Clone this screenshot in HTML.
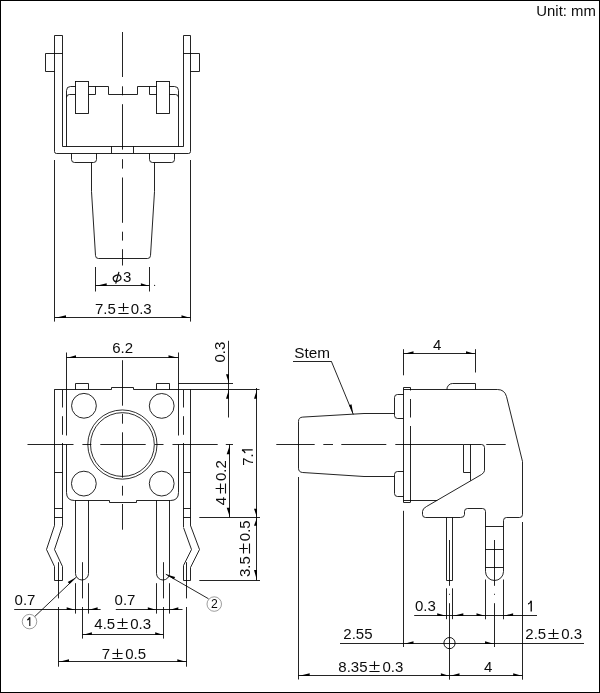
<!DOCTYPE html>
<html><head><meta charset="utf-8"><title>Drawing</title>
<style>
html,body{margin:0;padding:0;background:#fff;}
body{width:600px;height:693px;overflow:hidden;font-family:"Liberation Sans",sans-serif;}
svg{display:block;will-change:transform;}
svg *{vector-effect:none;}
line,path,circle,rect,polyline{fill:none;stroke:#000;stroke-width:0.86;stroke-linecap:butt;stroke-linejoin:miter;}
polygon.a{fill:#000;stroke:none;}
path.t{stroke:#0c0c0c;stroke-width:1.1;fill:none;}
text{font-family:"Liberation Sans",sans-serif;fill:#0c0c0c;stroke:none;}
</style></head>
<body>
<svg width="600" height="693" viewBox="0 0 600 693">
<rect x="0" y="0" width="600" height="693" style="fill:#fff;stroke:none"/>
<rect x="0.5" y="0.5" width="599" height="692" style="stroke:#000;stroke-width:1"/>
<!-- front view -->
<text x="536.3" y="15.8" font-size="14.9">Unit: mm</text>
<path d="M62.5 146.5V35.5H54.5V151.5Q54.5 153.5 56.5 153.5H188.5Q190.5 153.5 190.5 151.5"/>
<path d="M190.5 151.5V35.5H183.5V146.5"/>
<line x1="62.5" y1="146.5" x2="183.6" y2="146.5"/>
<path d="M62.5 53.5H45.5V71.5H54.5"/>
<path d="M183.5 53.5H199.5V71.5H190.5"/>
<line x1="111.5" y1="146.4" x2="111.5" y2="153.2"/>
<line x1="133.5" y1="146.4" x2="133.5" y2="153.2"/>
<path d="M66.5 146.5V90.5Q66.5 86.5 70.5 86.5H75.5"/>
<path d="M178.5 146.5V90.5Q178.5 86.5 174.5 86.5H169.5"/>
<path d="M66.5 97.5Q66.5 94.5 69.5 94.5H75.5"/>
<path d="M178.5 97.5Q178.5 94.5 175.5 94.5H169.5"/>
<path d="M88.5 86.5H108.5V94.5H137.5V86.5H156.5"/>
<path d="M88.5 94.5H95.5V86.5"/>
<path d="M156.5 94.5H149.5V86.5"/>
<rect x="75.5" y="81.5" width="13" height="32"/>
<rect x="156.5" y="81.5" width="13" height="32"/>
<path d="M71.5 153.5V159.5Q71.5 162.5 74.5 162.5H93.5Q96.5 162.5 96.5 159.5V153.5"/>
<path d="M149.5 153.5V159.5Q149.5 162.5 152.5 162.5H171.5Q174.5 162.5 174.5 159.5V153.5"/>
<path d="M91.5 162.5V191.5L95.5 255.5Q95.5 258.5 98.5 258.5H147.5Q150.5 258.5 150.5 255.5L154.5 191.5V162.5"/>
<line x1="122.5" y1="32" x2="122.5" y2="77"/>
<line x1="122.5" y1="86.3" x2="122.5" y2="95.3"/>
<line x1="122.5" y1="104.2" x2="122.5" y2="149.6"/>
<line x1="122.5" y1="159.2" x2="122.5" y2="168.6"/>
<line x1="122.5" y1="177.5" x2="122.5" y2="222.8"/>
<line x1="122.5" y1="231.7" x2="122.5" y2="240.6"/>
<line x1="122.5" y1="249.2" x2="122.5" y2="265.5"/>
<line x1="95.5" y1="267" x2="95.5" y2="291.5"/>
<line x1="149.5" y1="267" x2="149.5" y2="291.5"/>
<line x1="95.5" y1="285.5" x2="149.5" y2="285.5"/>
<polygon class="a" points="95.5,286 106.7,283.2 106.7,286"/>
<polygon class="a" points="149.5,286 140.9,283.2 140.9,286"/>
<circle cx="154.6" cy="285.4" r="0.6" style="fill:#222;stroke:none"/>
<ellipse cx="117.1" cy="278.2" rx="3.9" ry="3.0" transform="rotate(-22 117.1 278.2)" style="fill:none;stroke:#0c0c0c;stroke-width:1.25"/>
<path class="t" style="stroke-width:1.2" d="M118.95 271.9L115.7 283.7"/>
<text x="123" y="281.9" font-size="15">3</text>
<line x1="54.5" y1="160" x2="54.5" y2="321.6"/>
<line x1="190.5" y1="160" x2="190.5" y2="321.6"/>
<line x1="54.65" y1="317.5" x2="190.5" y2="317.5"/>
<polygon class="a" points="54.5,318 66,315.2 66,318"/>
<polygon class="a" points="190.5,318 181.5,315.2 181.5,318"/>
<text x="95" y="313.5" font-size="15">7.5</text>
<path class="t" d="M118.4 307.5H128.6M123.5 303.1V311.6M118.4 313.5H128.6"/>
<text x="130.85" y="313.5" font-size="15">0.3</text>
<!-- top view -->
<path d="M54.5 389.5H111.5V387.5H133.5V389.5H259.5"/>
<line x1="178.4" y1="383.5" x2="233" y2="383.5"/>
<line x1="66.5" y1="352.5" x2="66.5" y2="435.5"/>
<line x1="178.5" y1="352.5" x2="178.5" y2="435.5"/>
<path d="M66.5 444.5V492.5Q66.5 500.5 74.5 500.5H109.5V502.5H136.5V500.5H170.5Q178.5 500.5 178.5 492.5V444.5"/>
<path d="M75.5 389.5V383.5H88.5V389.5"/>
<path d="M156.5 389.5V383.5H169.5V389.5"/>
<circle cx="83.95" cy="405.8" r="12.4" style="stroke-width:0.85;"/>
<circle cx="161.7" cy="405.9" r="12.4" style="stroke-width:0.85;"/>
<circle cx="83.85" cy="483.6" r="12.4" style="stroke-width:0.85;"/>
<circle cx="161.7" cy="483.6" r="12.4" style="stroke-width:0.85;"/>
<circle cx="122.4" cy="444.55" r="34.6" style="stroke-width:0.82;"/>
<circle cx="122.4" cy="444.55" r="31.9" style="stroke-width:0.82;"/>
<line x1="54.5" y1="389.3" x2="54.5" y2="525.6"/>
<line x1="190.5" y1="389.3" x2="190.5" y2="525.8"/>
<line x1="62.5" y1="390" x2="62.5" y2="407.5"/>
<line x1="62.5" y1="416.2" x2="62.5" y2="434.8"/>
<line x1="183.5" y1="390" x2="183.5" y2="407.5"/>
<line x1="183.5" y1="416.2" x2="183.5" y2="434.8"/>
<line x1="62.5" y1="443" x2="62.5" y2="525.6"/>
<line x1="183.5" y1="443" x2="183.5" y2="527"/>
<line x1="54.6" y1="472.5" x2="62.45" y2="472.5"/>
<line x1="183.5" y1="472.5" x2="190.45" y2="472.5"/>
<line x1="54.6" y1="508.5" x2="62.45" y2="508.5"/>
<line x1="183.5" y1="508.5" x2="190.45" y2="508.5"/>
<line x1="54.6" y1="517.5" x2="62.45" y2="517.5"/>
<line x1="183.5" y1="517.5" x2="190.45" y2="517.5"/>
<g style="stroke-linejoin:round">
<path d="M54.5 525.5L46.5 549.5L54.5 566.5V580.5H62.5V566.5L54.5 549.5L62.5 525.5"/>
<path d="M190.5 525.5L199.5 549.5L190.5 567.5V580.5H183.5V565.5L191.5 549.5L183.5 527.5"/>
</g>
<path d="M75.5 500.5V573.5A6.5 6.5 0 0 0 88.5 573.5V500.5"/>
<path d="M156.5 500.5V573.5A6.47 6.47 0 0 0 169.5 573.5V500.5"/>
<line x1="27.5" y1="444.5" x2="73.5" y2="444.5"/>
<line x1="82.4" y1="444.5" x2="91.4" y2="444.5"/>
<line x1="100.3" y1="444.5" x2="145.7" y2="444.5"/>
<line x1="154.6" y1="444.5" x2="163.5" y2="444.5"/>
<line x1="172.5" y1="444.5" x2="217.7" y2="444.5"/>
<line x1="225.8" y1="444.5" x2="233" y2="444.5"/>
<line x1="122.5" y1="360.2" x2="122.5" y2="405.7"/>
<line x1="122.5" y1="413.8" x2="122.5" y2="423.7"/>
<line x1="122.5" y1="432.3" x2="122.5" y2="477.6"/>
<line x1="122.5" y1="485.8" x2="122.5" y2="495.6"/>
<line x1="122.5" y1="504" x2="122.5" y2="529.7"/>
<line x1="82.5" y1="562.2" x2="82.5" y2="598.4"/>
<line x1="82.5" y1="607" x2="82.5" y2="638.6"/>
<line x1="163.5" y1="562.2" x2="163.5" y2="598.4"/>
<line x1="163.5" y1="607" x2="163.5" y2="638.6"/>
<line x1="58.5" y1="562.2" x2="58.5" y2="598.4"/>
<line x1="58.5" y1="607" x2="58.5" y2="666.7"/>
<line x1="186.5" y1="562.2" x2="186.5" y2="598.4"/>
<line x1="186.5" y1="607" x2="186.5" y2="666.7"/>
<line x1="66.4" y1="357.5" x2="178.4" y2="357.5"/>
<polygon class="a" points="66.5,358 76,355.2 76,358"/>
<polygon class="a" points="178.5,358 168.5,355.2 168.5,358"/>
<text x="112.2" y="353.35" font-size="15">6.2</text>
<line x1="75.5" y1="583.2" x2="75.5" y2="613.6"/>
<line x1="88.5" y1="583.2" x2="88.5" y2="613.6"/>
<line x1="156.5" y1="583.2" x2="156.5" y2="613.6"/>
<line x1="169.5" y1="583.2" x2="169.5" y2="613.6"/>
<line x1="14.2" y1="609.5" x2="100.6" y2="609.5"/>
<line x1="115.8" y1="609.5" x2="182.5" y2="609.5"/>
<polygon class="a" points="75.5,610 66.7,607.2 66.7,610"/>
<polygon class="a" points="88.5,610 97.6,607.2 97.6,610"/>
<polygon class="a" points="156.5,610 147.8,607.2 147.8,610"/>
<polygon class="a" points="169.5,610 178.3,607.2 178.3,610"/>
<text x="14.6" y="605.35" font-size="15">0.7</text>
<text x="114.6" y="605.35" font-size="15">0.7</text>
<line x1="82.35" y1="634.5" x2="163.3" y2="634.5"/>
<polygon class="a" points="82.5,635 91.9,632.2 91.9,635"/>
<polygon class="a" points="163.5,635 155.2,632.2 155.2,635"/>
<text x="94.3" y="628.7" font-size="15">4.5</text>
<path class="t" d="M117.4 622.5H127.6M122.5 618.3V626.8M117.4 628.5H127.6"/>
<text x="130.15" y="628.7" font-size="15">0.3</text>
<line x1="58.55" y1="661.5" x2="186.7" y2="661.5"/>
<polygon class="a" points="58.5,662 69,659.2 69,662"/>
<polygon class="a" points="186.5,662 177.3,659.2 177.3,662"/>
<text x="101.8" y="659.25" font-size="15">7</text>
<path class="t" d="M112.4 653.5H122.6M117.5 648.85V657.35M112.4 658.5H122.6"/>
<text x="125.14" y="659.25" font-size="15">0.5</text>
<line x1="199.3" y1="517.5" x2="260" y2="517.5"/>
<line x1="199.3" y1="580.5" x2="260" y2="580.5"/>
<line x1="228.5" y1="340.8" x2="228.5" y2="417.5"/>
<polygon class="a" points="229,383.5 226,374.2 229,374.2"/>
<polygon class="a" points="229,389.5 226,398.8 229,398.8"/>
<line x1="229.5" y1="444.45" x2="229.5" y2="517.25"/>
<polygon class="a" points="230,444.5 226.7,454.2 230,454.2"/>
<polygon class="a" points="230,517.5 226.7,507.7 230,507.7"/>
<line x1="256.5" y1="388" x2="256.5" y2="580.3"/>
<polygon class="a" points="257,389.5 254,398.8 257,398.8"/>
<polygon class="a" points="257,517.5 254,508.7 257,508.7"/>
<polygon class="a" points="257,517.5 254,525.7 257,525.7"/>
<polygon class="a" points="257,580.5 254,570 257,570"/>
<g transform="translate(225.1 362.6) rotate(-90)">
<text x="0" y="0" font-size="15">0.3</text>
</g>
<g transform="translate(252.7 465.8) rotate(-90)">
<text x="0" y="0" font-size="15">7.</text>
<path class="t" style="stroke-width:1.38" d="M15.94 0V-10.74M12.78 -7.58Q14.76 -7.95 15.76 -10.74"/>
</g>
<g transform="translate(226 505.3) rotate(-90)">
<text x="0" y="0" font-size="15">4</text>
<path class="t" d="M11.7 -5.5H21.9M16.8 -10.4V-1.9M11.7 -0.5H21.9"/>
<text x="24.34" y="0" font-size="15">0.2</text>
</g>
<g transform="translate(249.7 577) rotate(-90)">
<text x="0" y="0" font-size="15">3.5</text>
<path class="t" d="M23.4 -6.2H33.6M28.5 -10.4V-1.9M23.4 -0.2H33.6"/>
<text x="35.85" y="0" font-size="15">0.5</text>
</g>
<line x1="34.75" y1="616.5" x2="76.2" y2="577.2" style="stroke-width:0.85;"/>
<polygon class="a" points="76.2,577.2 67.72,582.07 69.58,584.03"/>
<line x1="208.5" y1="598.75" x2="165.8" y2="574.2" style="stroke-width:0.85;"/>
<polygon class="a" points="165.8,574.2 175.18,576.94 173.84,579.28"/>
<circle cx="29.5" cy="621.6" r="7.25" style="stroke-width:0.6;stroke:#5a5a5a;"/>
<circle cx="214.25" cy="604.05" r="7.25" style="stroke-width:0.6;stroke:#5a5a5a;"/>
<path class="t" style="stroke-width:1.12" d="M29.8 626V617.26M27.23 619.84Q28.84 619.53 29.65 617.26"/>
<text x="214.3" y="608.3" font-size="12.2" text-anchor="middle">2</text>
<!-- side view -->
<line x1="276.3" y1="444.5" x2="314.7" y2="444.5"/>
<line x1="323.3" y1="444.5" x2="333" y2="444.5"/>
<line x1="341.3" y1="444.5" x2="386.3" y2="444.5"/>
<line x1="395.3" y1="444.5" x2="463.3" y2="444.5"/>
<line x1="486.3" y1="444.5" x2="505.7" y2="444.5"/>
<path d="M394.5 413.5H364L302.7 417.1Q298.5 417.35 298.5 421.4V468.2Q298.5 472.2 302.7 472.5L364 476.5H394.5"/>
<path d="M403.5 394.5H397.5Q394.5 394.5 394.5 397.5V415.5Q394.5 418.5 397.5 418.5H403.5"/>
<path d="M403.5 471.5H397.5Q394.5 471.5 394.5 474.5V493.5Q394.5 496.5 397.5 496.5H403.5"/>
<path d="M403.5 502.5V387.5H410.5V390.5"/>
<path d="M403.5 389.5H497.5Q504.5 389.5 506.5 396.5L522.5 461.5V514.5Q522.5 517.5 519.5 517.5H506.5Q503.5 517.5 503.5 520.5V571.5"/>
<path d="M446.9 389.5A5.6 6 0 0 1 452.5 383.5H475.5V389.5"/>
<line x1="410.5" y1="399" x2="410.5" y2="417.5"/>
<line x1="410.5" y1="426" x2="410.5" y2="502.2"/>
<path d="M403.5 502.5H410.5"/>
<line x1="403.3" y1="500.5" x2="437.3" y2="500.5"/>
<path d="M481.5 474.5L426.5 506.5Q422.5 508.5 422.5 511.5V514.5Q422.5 517.5 425.5 517.5H460.5Q464.5 517.5 464.5 514.5V511.5Q464.5 508.5 467.5 508.5H482.5Q485.5 508.5 485.5 511.5V571.5"/>
<path d="M463.5 444.5V472.5H470.5"/>
<line x1="470.5" y1="444.45" x2="470.5" y2="480.7"/>
<path d="M463.5 444.5H481.5Q484.5 444.5 484.5 447.5V470.5Q484.5 472.5 481.5 474.5"/>
<path d="M446.5 517.5V580.5H452.5V517.5"/>
<path d="M485.5 571.5A8.975 8.975 0 0 0 503.5 571.5"/>
<line x1="485.4" y1="526.5" x2="503.35" y2="526.5"/>
<line x1="485.4" y1="549.5" x2="503.35" y2="549.5"/>
<line x1="485.4" y1="567.5" x2="503.35" y2="567.5"/>
<line x1="449.5" y1="540" x2="449.5" y2="585.8"/>
<line x1="449.5" y1="593.8" x2="449.5" y2="594.8"/>
<line x1="449.5" y1="603.2" x2="449.5" y2="679.7"/>
<line x1="494.5" y1="540" x2="494.5" y2="585.8"/>
<line x1="494.5" y1="593.8" x2="494.5" y2="594.8"/>
<line x1="494.5" y1="603.2" x2="494.5" y2="647"/>
<line x1="298.5" y1="477" x2="298.5" y2="679.5"/>
<line x1="403.5" y1="510.8" x2="403.5" y2="647"/>
<line x1="522.5" y1="522" x2="522.5" y2="679.7"/>
<line x1="446.5" y1="588.3" x2="446.5" y2="619.2"/>
<line x1="452.5" y1="588.3" x2="452.5" y2="619.2"/>
<line x1="485.5" y1="579.5" x2="485.5" y2="619.3"/>
<line x1="503.5" y1="579.5" x2="503.5" y2="619.3"/>
<line x1="414.2" y1="615.5" x2="537" y2="615.5"/>
<polygon class="a" points="446.5,616 437.2,613.2 437.2,616"/>
<polygon class="a" points="452.5,616 463.3,613.2 463.3,616"/>
<polygon class="a" points="485.5,616 476.5,613.2 476.5,616"/>
<polygon class="a" points="503.5,616 513.1,613.2 513.1,616"/>
<text x="415" y="611.4" font-size="15">0.3</text>
<path class="t" style="stroke-width:1.38" d="M531.23 611.6V600.86M528.07 604.02Q530.05 603.65 531.05 600.86"/>
<line x1="340" y1="643.5" x2="584" y2="643.5"/>
<polygon class="a" points="403.5,644 413.5,641.2 413.5,644"/>
<polygon class="a" points="494.5,644 485,641.2 485,644"/>
<circle cx="449.5" cy="643.1" r="5.6" style="stroke-width:0.9;"/>
<text x="343.3" y="639.4" font-size="15">2.55</text>
<text x="525.3" y="639.4" font-size="15">2.5</text>
<path class="t" d="M548.4 633.5H558.6M553.5 629V637.5M548.4 638.5H558.6"/>
<text x="561.15" y="639.4" font-size="15">0.3</text>
<line x1="298.35" y1="675.5" x2="522.55" y2="675.5"/>
<polygon class="a" points="298.5,676 309.7,673.2 309.7,676"/>
<polygon class="a" points="449.5,676 440.9,673.2 440.9,676"/>
<polygon class="a" points="449.5,676 459.5,673.2 459.5,676"/>
<polygon class="a" points="522.5,676 513.2,673.2 513.2,676"/>
<text x="338.3" y="671.6" font-size="15">8.35</text>
<path class="t" d="M369.4 665.5H379.6M374.5 661.2V669.7M369.4 671.5H379.6"/>
<text x="382.49" y="671.6" font-size="15">0.3</text>
<text x="483.9" y="671.6" font-size="15">4</text>
<line x1="403.5" y1="349.2" x2="403.5" y2="375.3"/>
<line x1="475.5" y1="349.2" x2="475.5" y2="372.5"/>
<line x1="403.3" y1="353.5" x2="475.3" y2="353.5"/>
<polygon class="a" points="403.5,354 413.5,351.2 413.5,354"/>
<polygon class="a" points="475.5,354 466,351.2 466,354"/>
<text x="433.1" y="349.7" font-size="15">4</text>
<text x="294.2" y="357.6" font-size="15.3">Stem</text>
<line x1="293" y1="361.5" x2="331.3" y2="361.5"/>
<line x1="331.3" y1="361.2" x2="353.3" y2="414.4" style="stroke-width:0.85;"/>
<polygon class="a" points="353.3,414.4 351.51,404.32 349.11,405.31"/>
</svg>
</body></html>
